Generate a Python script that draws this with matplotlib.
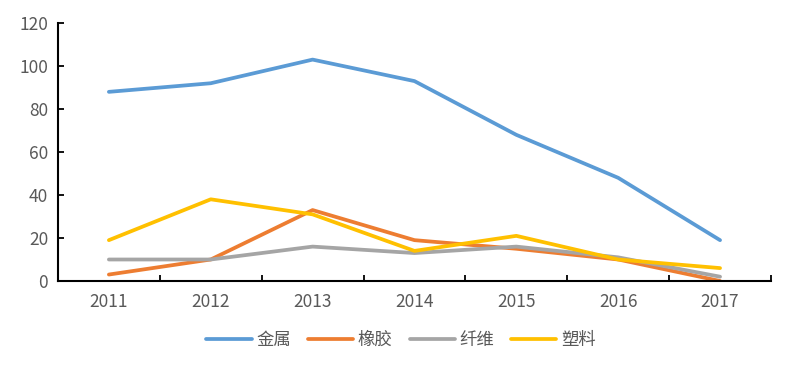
import numpy as np
import matplotlib
matplotlib.use("Agg")
from matplotlib import pyplot as plt

plt.rcParams['font.family'] = ['Noto Sans CJK SC', 'DejaVu Sans']

years = ['2011', '2012', '2013', '2014', '2015', '2016', '2017']
metal = [88, 92, 103, 93, 68, 48, 19]
rubber = [3, 10, 33, 19, 15, 10, 0]
fiber = [10, 10, 16, 13, 16, 11, 2]
plastic = [19, 38, 31, 14, 21, 10, 6]

series = [
    ('金属', metal, '#5B9BD5'),
    ('橡胶', rubber, '#ED7D31'),
    ('纤维', fiber, '#A5A5A5'),
    ('塑料', plastic, '#FFC000'),
]

fig = plt.figure(figsize=(7.94, 3.69), dpi=100)
ax = fig.add_axes([0.073, 0.2385, 0.898, 0.699])

x = np.arange(len(years))
for name, vals, color in series:
    ax.plot(x, vals, color=color, lw=2.7, label=name, solid_capstyle='round', solid_joinstyle='round')

ax.set_xlim(-0.5, len(years) - 0.5)
ax.set_ylim(0, 120)
ax.set_yticks(range(0, 121, 20))
ax.set_xticks(x)
ax.set_xticklabels(years)
ax.set_xticks(np.arange(-0.5, len(years), 1), minor=True)

ax.tick_params(axis='x', which='major', length=0, pad=9, labelsize=12.5, labelcolor='#595959')
ax.tick_params(axis='x', which='minor', direction='in', length=4, width=1.3)
ax.tick_params(axis='y', direction='in', length=4, width=1.3, pad=7, labelsize=12.5, labelcolor='#595959')

for side in ('top', 'right'):
    ax.spines[side].set_visible(False)
for side in ('left', 'bottom'):
    ax.spines[side].set_linewidth(1.5)

fig.legend(loc='upper center', bbox_to_anchor=(0.505, 0.145), ncol=4, frameon=False,
           fontsize=12.5, handlelength=2.6, columnspacing=1.0, handletextpad=0.25,
           labelcolor='#595959')

fig.savefig('out.png', dpi=100)
